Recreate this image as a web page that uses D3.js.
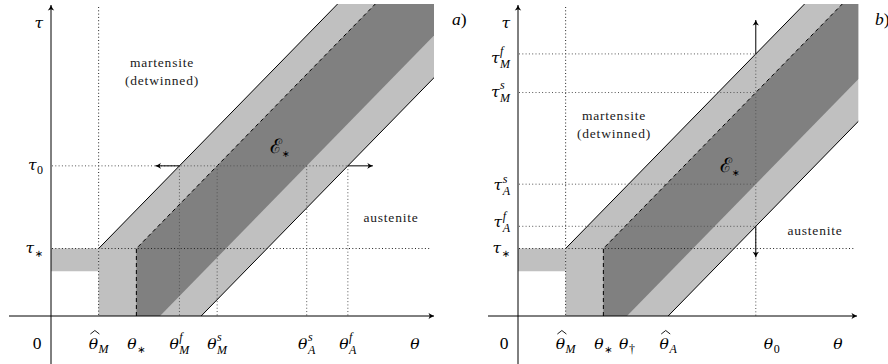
<!DOCTYPE html>
<html>
<head>
<meta charset="utf-8">
<script src="https://cdn.jsdelivr.net/npm/d3@7"></script>
<style>
body { margin: 0; background: #fff; }
svg { display: block; }
.math { font-family: "DejaVu Serif", serif; font-style: italic; font-size: 15.5px; fill: #000; }
.up { font-family: "Liberation Serif", serif; font-size: 17.5px; fill: #000; }
.scr { font-family: "Liberation Serif", serif; font-size: 12px; fill: #000; }
.scr.it { font-style: italic; }
.phase { font-family: "Liberation Serif", serif; font-size: 13.5px; letter-spacing: 0.8px; fill: #1a1a1a; text-anchor: middle; }
</style>
</head>
<body>
<svg id="chart" width="888" height="364"></svg>
<script>
// values, theta / tau in plain units
var thetaHatM = 1.25, thetaStar = 2.24, thetaDagger = 2.86, thetaHatA = 3.94;
var tauStar = 1.73, tauLow = 1.15, tauTop = 8;
var tau0 = 3.85, theta0 = 6.24;

// panel a ticks
var xTickA = [1.25, 2.24, 3.37, 4.36, 6.71, 7.79];
var xLabelA = [
  {b: "θ", hat: 1, sub: "M"}, {b: "θ", sub: "∗"},
  {b: "θ", sub: "M", sup: "f"}, {b: "θ", sub: "M", sup: "s"},
  {b: "θ", sub: "A", sup: "s"}, {b: "θ", sub: "A", sup: "f"}];
var yTickA = [3.85, 1.73];
var yLabelA = [{b: "τ", sub: "0"}, {b: "τ", sub: "∗"}];

// panel b ticks
var xTickB = [1.25, 2.24, 2.86, 3.94, 6.24];
var xLabelB = [
  {b: "θ", hat: 1, sub: "M"}, {b: "θ", sub: "∗"}, {b: "θ", sub: "†"},
  {b: "θ", hat: 1, sub: "A"}, {b: "θ", sub: "0", dx: 16}];
var yTickB = [6.72, 5.73, 3.38, 2.30, 1.73];
var yLabelB = [
  {b: "τ", sub: "M", sup: "f", dy: 9}, {b: "τ", sub: "M", sup: "s", dy: 4},
  {b: "τ", sub: "A", sup: "s", dy: 6}, {b: "τ", sub: "A", sup: "f", dy: 1},
  {b: "τ", sub: "∗"}];

var svg = d3.select("#chart");

function isLetter(s) { return /[a-zA-Z]/.test(s); }

function mathLabel(g, x, y, L, anchor) {
  var grp = g.append("g");
  var t = grp.append("text").attr("class", "math").text(L.b);
  var w = t.node().getComputedTextLength();
  var sw = 0;
  if (L.sup) {
    var s = grp.append("text").attr("class", "scr it")
      .attr("x", w + 0.5).attr("y", -7.5).text(L.sup);
    sw = Math.max(sw, s.node().getComputedTextLength() + 0.5);
  }
  if (L.sub) {
    var s2 = grp.append("text")
      .attr("class", isLetter(L.sub) ? "scr it" : "scr")
      .attr("x", w + 0.5).attr("y", L.sup ? 5 : 4).text(L.sub);
    if (L.sub == "∗") s2.style("font-family", "DejaVu Sans").style("font-size", "10px");
    sw = Math.max(sw, s2.node().getComputedTextLength() + 0.5);
  }
  if (L.hat) {
    var cx = w / 2 + 1.5;
    grp.append("path")
      .attr("d", "M" + (cx - 4.5) + ",-14.5L" + cx + ",-18L" + (cx + 4.5) + ",-14.5")
      .attr("fill", "none").attr("stroke", "#000").attr("stroke-width", 0.9);
  }
  var total = w + sw;
  var tx = anchor == "end" ? x - total : x - total / 2;
  grp.attr("transform", "translate(" + (tx + (L.dx || 0)) + "," + (y + (L.dy || 0)) + ")");
}

function arrowHead(g, x, y, angle) {
  g.append("path")
    .attr("d", "M0,0C-2,-0.8 -4,-2 -5.5,-3.2L-4.2,0L-5.5,3.2C-4,2 -2,0.8 0,0Z")
    .attr("transform", "translate(" + x + "," + y + ") rotate(" + angle + ")")
    .attr("fill", "#000");
}

function dotted(g, x1, y1, x2, y2, col) {
  g.append("line")
    .attr("x1", x1).attr("y1", y1).attr("x2", x2).attr("y2", y2)
    .attr("stroke", col).attr("stroke-width", 1)
    .attr("stroke-dasharray", "1,2.3");
}

function panel(p) {
  var g = svg.append("g");
  var x = d3.scaleLinear().domain([0, p.thetaMax]).range([p.axisX, p.right]);
  var y = d3.scaleLinear().domain([0, tauTop]).range([316, 4]);
  var line = d3.line().x(d => x(d[0])).y(d => y(d[1]));

  g.append("clipPath").attr("id", "clip" + p.id)
    .append("rect")
    .attr("x", x(0)).attr("y", y(tauTop))
    .attr("width", x(p.thetaMax) - x(0)).attr("height", y(0) - y(tauTop));

  var body = g.append("g").attr("clip-path", "url(#clip" + p.id + ")");
  var far = 20;

  // light band
  body.append("path")
    .attr("d", line([[thetaHatM, 0], [thetaHatM, tauStar], [thetaHatM + far, tauStar + far],
                     [thetaHatA + far, far], [thetaHatA, 0]]) + "Z")
    .attr("fill", "#c0c0c0");
  body.append("path")
    .attr("d", line([[0, tauLow], [0, tauStar], [thetaHatM, tauStar], [thetaHatM, tauLow]]) + "Z")
    .attr("fill", "#c0c0c0");
  // dark band E*
  body.append("path")
    .attr("d", line([[thetaStar, 0], [thetaStar, tauStar], [thetaStar + far, tauStar + far],
                     [thetaDagger + far, far], [thetaDagger, 0]]) + "Z")
    .attr("fill", "#808080");

  // dotted guides
  dotted(g, x(thetaHatM), 7, x(thetaHatM), y(0), "#222");
  dotted(g, x(0) + 1, y(tauStar), p.starEnd, y(tauStar), "#222");
  p.guides(g, x, y);

  // boundaries
  body.append("path")
    .attr("d", line([[thetaHatM, tauStar], [thetaHatM + far, tauStar + far]]))
    .attr("fill", "none").attr("stroke", "#000").attr("stroke-width", 1);
  body.append("path")
    .attr("d", line([[thetaHatA, 0], [thetaHatA + far, far]]))
    .attr("fill", "none").attr("stroke", "#000").attr("stroke-width", 1);
  body.append("path")
    .attr("d", line([[thetaStar, 0], [thetaStar, tauStar], [thetaStar + far, tauStar + far]]))
    .attr("fill", "none").attr("stroke", "#000").attr("stroke-width", 1)
    .attr("stroke-dasharray", "4,3");

  // axes
  g.append("line").attr("x1", p.axisStart).attr("y1", y(0)).attr("x2", p.xTip).attr("y2", y(0))
    .attr("stroke", "#000").attr("stroke-width", 1);
  arrowHead(g, p.xTip, y(0), 0);
  g.append("line").attr("x1", x(0)).attr("y1", 364).attr("x2", x(0)).attr("y2", 5)
    .attr("stroke", "#000").attr("stroke-width", 1);
  arrowHead(g, x(0), 5, -90);

  // tick labels
  p.xTicks.forEach(function(v, i) { mathLabel(g, x(v), 348.5, p.xLabels[i], "middle"); });
  p.yTicks.forEach(function(v, i) {
    var L = p.yLabels[i];
    mathLabel(g, x(0) - 8, y(v) + (L.dy === undefined ? 4 : 0), L, "end");
  });
  g.append("text").attr("class", "up").attr("x", x(0) - 14).attr("y", 348.5)
    .attr("text-anchor", "middle").text("0");
  g.append("text").attr("class", "math").attr("x", p.xTip - 19).attr("y", 348.5)
    .attr("text-anchor", "middle").text("θ");
  g.append("text").attr("class", "math").attr("x", x(0) - 8).attr("y", 28)
    .attr("text-anchor", "end").text("τ");

  // region names
  g.append("text").attr("class", "phase").attr("x", p.mart[0]).attr("y", p.mart[1]).text("martensite");
  g.append("text").attr("class", "phase").attr("x", p.mart[0]).attr("y", p.mart[1] + 18.5).text("(detwinned)");
  g.append("text").attr("class", "phase").attr("x", p.aust[0]).attr("y", p.aust[1]).text("austenite");

  var e = g.append("text").attr("x", p.eLab[0]).attr("y", p.eLab[1]);
  e.append("tspan").style("font-family", "Liberation Serif").style("font-size", "20px").text("ℰ");
  e.append("tspan").attr("dy", 4).style("font-family", "DejaVu Sans").style("font-size", "9.5px").text("∗");

  var lab = g.append("text").attr("x", p.letter).attr("y", 25);
  lab.append("tspan").attr("class", "up").style("font-style", "italic").text(p.id);
  lab.append("tspan").attr("class", "up").text(")");
}

panel({
  id: "a", axisX: 51, right: 434, thetaMax: 10.05, axisStart: 9, xTip: 434, starEnd: 430,
  xTicks: xTickA, xLabels: xLabelA, yTicks: yTickA, yLabels: yLabelA,
  mart: [162, 66.5], aust: [391, 222], eLab: [270, 153], letter: 452,
  guides: function(g, x, y) {
    var yy = y(tau0);
    dotted(g, x(0) + 1, yy, x(xTickA[5]), yy, "#555");
    xTickA.slice(2).forEach(function(v) { dotted(g, x(v), yy, x(v), y(0), "#555"); });
    g.append("line").attr("x1", x(xTickA[2])).attr("y1", yy).attr("x2", x(xTickA[2]) - 24).attr("y2", yy)
      .attr("stroke", "#000").attr("stroke-width", 1);
    arrowHead(g, x(xTickA[2]) - 24, yy, 180);
    g.append("line").attr("x1", x(xTickA[5])).attr("y1", yy).attr("x2", x(xTickA[5]) + 25).attr("y2", yy)
      .attr("stroke", "#000").attr("stroke-width", 1);
    arrowHead(g, x(xTickA[5]) + 25, yy, 0);
  }
});

panel({
  id: "b", axisX: 518, right: 858.3, thetaMax: 8.93, axisStart: 488, xTip: 857, starEnd: 854,
  xTicks: xTickB, xLabels: xLabelB, yTicks: yTickB, yLabels: yLabelB,
  mart: [614, 119.5], aust: [815, 235], eLab: [720, 171.5], letter: 875,
  guides: function(g, x, y) {
    var xx = x(theta0);
    yTickB.slice(0, 4).forEach(function(v) { dotted(g, x(0) + 1, y(v), xx, y(v), "#555"); });
    dotted(g, xx, y(yTickB[0]), xx, y(0), "#555");
    g.append("line").attr("x1", xx).attr("y1", y(yTickB[0])).attr("x2", xx).attr("y2", 20)
      .attr("stroke", "#000").attr("stroke-width", 1);
    arrowHead(g, xx, 20, -90);
    g.append("line").attr("x1", xx).attr("y1", y(yTickB[3])).attr("x2", xx).attr("y2", y(yTickB[3]) + 31)
      .attr("stroke", "#000").attr("stroke-width", 1);
    arrowHead(g, xx, y(yTickB[3]) + 31, 90);
  }
});
</script>
</body>
</html>
